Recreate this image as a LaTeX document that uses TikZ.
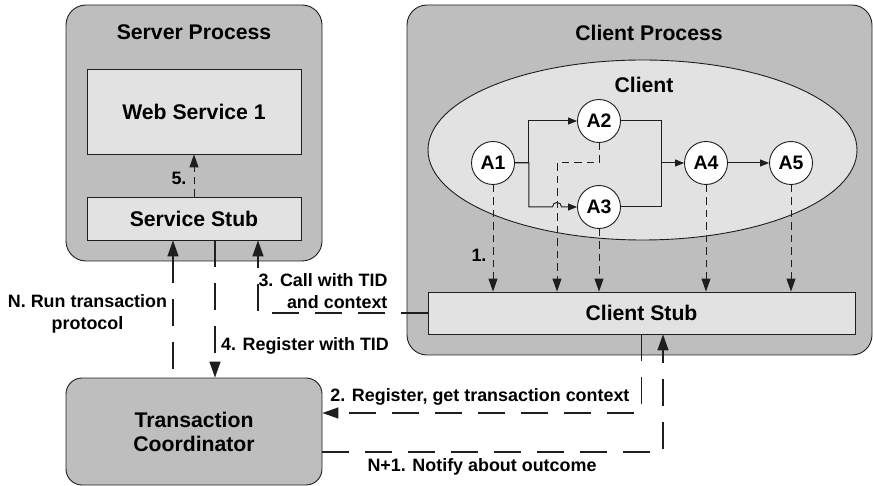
\documentclass[tikz,border=0pt]{standalone}
\usepackage{fontspec}
\setmainfont{Liberation Sans}
\usetikzlibrary{arrows.meta,shapes.geometric}
\definecolor{procgray}{RGB}{190,190,190}
\definecolor{lightbox}{RGB}{226,226,226}
\definecolor{linecol}{RGB}{30,30,30}
\begin{document}
\begin{tikzpicture}[x=1pt,y=-1pt,
  hfont/.style={font=\fontsize{21.2}{24}\selectfont\bfseries},
  lfont/.style={font=\fontsize{17.9}{22}\selectfont\bfseries},
  proc/.style={draw=linecol, fill=procgray, rounded corners=20pt, line width=0.9pt, inner sep=0pt},
  inbox/.style={draw=linecol, fill=lightbox, line width=0.9pt, inner sep=0pt, hfont},
  act/.style={circle, draw=linecol, fill=white, line width=0.9pt, minimum size=43pt, inner sep=0pt, font=\fontsize{19.5}{22}\selectfont\bfseries},
  flow/.style={line width=1pt, draw=linecol},
  flowarr/.style={flow, -{Triangle[length=9pt,width=7pt]}},
  sdash/.style={line width=1pt, draw=linecol, dash pattern=on 7.5pt off 5pt, -{Triangle[length=13pt,width=9pt]}},
  ldash/.style={line width=1.5pt, draw=linecol, dash pattern=on 27pt off 16pt},
  ldarr/.style={ldash, -{Triangle[length=16pt,width=11pt]}},
  ldarrs/.style={ldash, {Triangle[length=16pt,width=11pt]}-},
]
\useasboundingbox (0,0) rectangle (873,486);

% Server process
\node[proc, minimum width=256pt, minimum height=256pt] (sproc) at (194,133) {};
\node[hfont] (stitle) at (194,32) {Server Process};
\node[inbox, minimum width=214pt, minimum height=85pt] (ws) at (194,111.5) {Web Service 1};
\node[inbox, minimum width=214pt, minimum height=43pt] (sstub) at (194,218.5) {Service Stub};
\draw[sdash] (sstub.north) -- (ws.south);
\node[lfont] (l5) at (179,178) {5.};

% Client process
\node[proc, minimum width=465pt, minimum height=350pt] (cproc) at (639.5,180) {};
\node[hfont] (ctitle) at (649,33) {Client Process};
\node[ellipse, draw=linecol, fill=lightbox, line width=0.9pt, minimum width=429pt, minimum height=180pt] (cl) at (642.5,150) {};
\node[hfont] (cltitle) at (644,85) {Client};
\node[inbox, minimum width=427pt, minimum height=42pt] (cstub) at (641.5,313) {Client Stub};

\node[act] (A1) at (493,163) {A1};
\node[act] (A2) at (599,121) {A2};
\node[act] (A3) at (599,207) {A3};
\node[act] (A4) at (706,163) {A4};
\node[act] (A5) at (791,163) {A5};

\coordinate (jx) at (557,163);
\coordinate (mx) at (661,163);
\draw[flowarr] (A1.east) -- ++(14,0) |- (A2.west);
\draw[flowarr] (A1.east) -- ++(14,0) |- ([xshift=-4.5pt]jx |- A3.west)
   .. controls +(0,-6) and +(0,-6) .. ([xshift=4.5pt]jx |- A3.west) -- (A3.west);
\draw[flow] (A2.east) -| (mx);
\draw[flow] (A3.east) -| (mx);
\draw[flowarr] (mx) -- (A4.west);
\draw[flowarr] (A4.east) -- (A5.west);

\draw[sdash] (A1.south) -- (A1.south |- cstub.north);
\draw[sdash] (A2.south) |- (jx) -- (jx |- cstub.north);
\draw[sdash] (A3.south) -- (A3.south |- cstub.north);
\draw[sdash] (A4.south) -- (A4.south |- cstub.north);
\draw[sdash] (A5.south) -- (A5.south |- cstub.north);
\node[lfont] (l1) at (479,255) {1.};

% Transaction coordinator
\node[proc, rounded corners=16pt, minimum width=256pt, minimum height=107pt, hfont, align=center] (coord) at (194,431.5) {Transaction\\Coordinator};

% Connectors
\draw[ldarrs] ([xshift=-21pt]sstub.south) -- ([xshift=-21pt]coord.north);
\node[lfont, align=center] (lN) at (87.5,314) {N. Run transaction\\protocol};
\draw[ldarr] ([xshift=21pt]sstub.south) -- ([xshift=21pt]coord.north);
\node[lfont] (l4) at (305,346) {4. Register with TID};
\draw[ldarr] (cstub.west) -| ([xshift=64pt]sstub.south);
\node[lfont, align=right, anchor=east] (l3) at (391,291) {3. Call with TID\\and context};
\draw[ldarr] (cstub.south) |- ([yshift=18.5pt]coord.east);
\node[lfont, anchor=east] (l2) at (633,397) {2. Register, get transaction context};
\draw[ldarr] ([yshift=-20.5pt]coord.east) -| ([xshift=21.5pt]cstub.south);
\node[lfont] (lN1) at (482,467) {N+1. Notify about outcome};
\end{tikzpicture}
\end{document}
